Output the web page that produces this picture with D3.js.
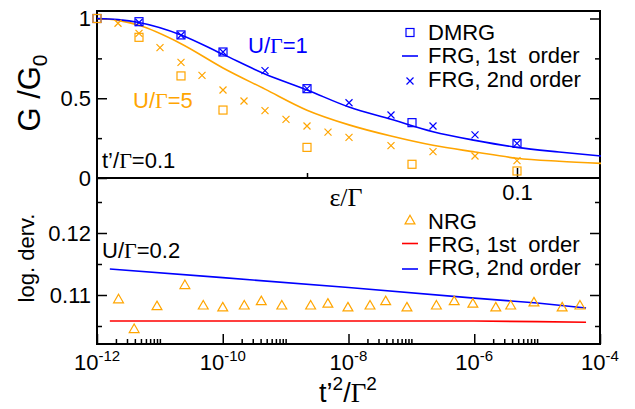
<!DOCTYPE html>
<html>
<head>
<meta charset="utf-8">
<script src="https://cdn.jsdelivr.net/npm/d3@7"></script>
<style>
  body { margin: 0; background: #fff; }
  svg { display: block; font-family: "Liberation Sans", Arial, sans-serif; }
  .greek { font-family: "Liberation Serif", "DejaVu Serif", serif; }
</style>
</head>
<body>
<svg id="chart" width="635" height="409"></svg>
<script>
// ---- top panel: G/G0 vs eps/Gamma ----
const epsLine = [0, 0.005, 0.01, 0.02, 0.03, 0.04, 0.05, 0.06, 0.07, 0.08, 0.09, 0.1, 0.11, 0.12];
const frg1U1 = [1.0, 0.993, 0.975, 0.897, 0.775, 0.652, 0.552, 0.445, 0.368, 0.29, 0.236, 0.192, 0.163, 0.138];
const frg1U5 = [1.0, 0.988, 0.957, 0.842, 0.69, 0.557, 0.425, 0.333, 0.263, 0.205, 0.163, 0.124, 0.105, 0.092];

const dmrgEps = [0, 0.01, 0.02, 0.03, 0.05, 0.075, 0.1];
const dmrgU1 = [1.0, 0.98, 0.897, 0.79, 0.56, 0.347, 0.217];
const dmrgU5 = [1.0, 0.882, 0.64, 0.426, 0.192, 0.086, 0.044];

const frg2EpsU1 = [0.01, 0.02, 0.03, 0.04, 0.05, 0.06, 0.07, 0.08, 0.09, 0.1];
const frg2U1 = [0.975, 0.895, 0.79, 0.673, 0.56, 0.472, 0.395, 0.326, 0.27, 0.217];
const frg2EpsU5 = [0.005, 0.01, 0.015, 0.02, 0.025, 0.03, 0.035, 0.04, 0.045, 0.05, 0.055, 0.06, 0.07, 0.08, 0.09, 0.1];
const frg2U5 = [0.97, 0.907, 0.817, 0.725, 0.643, 0.552, 0.483, 0.422, 0.368, 0.326, 0.288, 0.255, 0.203, 0.165, 0.138, 0.109];

const gTicks = [0, 0.5, 1];
const gMinor = [0.25, 0.75];
const epsTicks = [0.1];
const epsMinor = [0.05];

// ---- bottom panel: log derivative vs t'^2/Gamma^2 ----
const nrgT = [2.2e-12, 3.9e-12, 9e-12, 2.5e-11, 4.9e-11, 1e-10, 2.2e-10, 4.1e-10, 8.7e-10, 2.5e-9, 4.7e-9, 9.8e-9,
              2.2e-8, 3.9e-8, 8.5e-8, 2.5e-7, 4.8e-7, 9.5e-7, 2.2e-6, 3.8e-6, 8.9e-6, 2.5e-5, 4.8e-5];
const nrgVal = [0.1092, 0.1044, 0.1081, 0.1115, 0.1082, 0.1079, 0.1082, 0.1089, 0.1082, 0.1082, 0.1085, 0.1079,
                0.1082, 0.1089, 0.1079, 0.1082, 0.1089, 0.1085, 0.1079, 0.1082, 0.1087, 0.1079, 0.1082];
const lineT = [1.6e-12, 1e-10, 1e-8, 1e-6, 1e-5, 6e-5];
const frg1Log = [0.1058, 0.1058, 0.1058, 0.1058, 0.1057, 0.1056];
const frg2Log = [0.1142, 0.1128, 0.1112, 0.1095, 0.1087, 0.1079];

const dTicks = [0.11, 0.12];
const dMinor = [0.105, 0.115, 0.125];
const tMajor = [1e-12, 1e-10, 1e-8, 1e-6, 1e-4];
const tLabels = ["-12", "-10", "-8", "-6", "-4"];

const BLUE = "#0000ff", ORANGE = "#ffa500", RED = "#ff0000";

const svg = d3.select("#chart");
const L = 97, R = 600, T = 11, MID = 178, B = 344;

const xEps = d3.scaleLinear().domain([0, 0.12]).range([L, 601]);
const yG = d3.scaleLinear().domain([0, 1]).range([MID, 18.5]);
const xT = d3.scaleLog().domain([1e-12, 1e-4]).range([L, R]);
const yD = d3.scaleLinear().domain([0.11, 0.12]).range([295, 233]);

function axisStyle(g, size) {
  g.attr("font-family", null).attr("font-size", size);
  g.select(".domain").remove();
  g.selectAll(".tick line").attr("stroke", "#000").attr("stroke-width", 1.5);
  g.selectAll(".tick text").attr("fill", "#000");
}

// y axes, top panel
svg.append("g").attr("transform", `translate(${L},0)`)
  .call(d3.axisLeft(yG).tickValues(gTicks).tickSize(-10).tickPadding(6).tickFormat(d3.format("")))
  .call(axisStyle, 22);
svg.append("g").attr("transform", `translate(${L},0)`)
  .call(d3.axisLeft(yG).tickValues(gMinor).tickSize(-5).tickFormat(""))
  .call(axisStyle, 22);
svg.append("g").attr("transform", `translate(${R},0)`)
  .call(d3.axisRight(yG).tickValues(gTicks.filter(d => d > 0)).tickSize(-10).tickFormat(""))
  .call(axisStyle, 22);
svg.append("g").attr("transform", `translate(${R},0)`)
  .call(d3.axisRight(yG).tickValues(gMinor).tickSize(-5).tickFormat(""))
  .call(axisStyle, 22);

// eps axis (bottom of top panel)
svg.append("g").attr("transform", `translate(0,${MID})`)
  .call(d3.axisBottom(xEps).tickValues(epsTicks).tickSize(-10).tickPadding(6).tickFormat(d3.format("")))
  .call(axisStyle, 22);
svg.append("g").attr("transform", `translate(0,${MID})`)
  .call(d3.axisBottom(xEps).tickValues(epsMinor).tickSize(-5).tickFormat(""))
  .call(axisStyle, 22);

// y axes, bottom panel
svg.append("g").attr("transform", `translate(${L},0)`)
  .call(d3.axisLeft(yD).tickValues(dTicks).tickSize(-10).tickPadding(6).tickFormat(d3.format("")))
  .call(axisStyle, 22);
svg.append("g").attr("transform", `translate(${L},0)`)
  .call(d3.axisLeft(yD).tickValues(dMinor).tickSize(-5).tickFormat(""))
  .call(axisStyle, 22);
svg.append("g").attr("transform", `translate(${R},0)`)
  .call(d3.axisRight(yD).tickValues(dTicks).tickSize(-10).tickFormat(""))
  .call(axisStyle, 22);
svg.append("g").attr("transform", `translate(${R},0)`)
  .call(d3.axisRight(yD).tickValues(dMinor).tickSize(-5).tickFormat(""))
  .call(axisStyle, 22);

// log axis: major every two decades, minor ticks in the first decade after each major
const tMinor = [];
tMajor.slice(0, -1).forEach(m => { for (let k = 2; k <= 10; k++) tMinor.push(m * k); });
svg.append("g").attr("transform", `translate(0,${B})`)
  .call(d3.axisBottom(xT).tickValues(tMajor).tickSize(-10).tickFormat(""))
  .call(axisStyle, 22);
svg.append("g").attr("transform", `translate(0,${B})`)
  .call(d3.axisBottom(xT).tickValues(tMinor).tickSize(-5).tickFormat(""))
  .call(axisStyle, 22);

const tl = svg.append("g").selectAll("text").data(tMajor).join("text")
  .attr("x", d => xT(d)).attr("y", 370)
  .attr("text-anchor", "middle").attr("font-size", 22);
tl.append("tspan").text("10");
tl.append("tspan").attr("dy", -9).attr("font-size", 15).text((d, i) => tLabels[i]);

// frames
const frame = svg.append("g").attr("fill", "none").attr("stroke", "#000").attr("stroke-width", 2);
frame.append("rect").attr("x", L).attr("y", T).attr("width", R - L).attr("height", MID - T);
frame.append("rect").attr("x", L).attr("y", MID).attr("width", R - L).attr("height", B - MID);

// ---- top panel marks ----
const lineEps = d3.line().x(d => xEps(d[0])).y(d => yG(d[1])).curve(d3.curveMonotoneX);
svg.append("path").datum(d3.zip(epsLine, frg1U5))
  .attr("d", lineEps).attr("fill", "none").attr("stroke", ORANGE).attr("stroke-width", 1.6);
svg.append("path").datum(d3.zip(epsLine, frg1U1))
  .attr("d", lineEps).attr("fill", "none").attr("stroke", BLUE).attr("stroke-width", 1.6);

function squares(xs, ys, color) {
  svg.append("g").selectAll("rect").data(d3.zip(xs, ys)).join("rect")
    .attr("x", d => xEps(d[0]) - 4).attr("y", d => yG(d[1]) - 4)
    .attr("width", 8).attr("height", 8)
    .attr("fill", "none").attr("stroke", color).attr("stroke-width", 1.2);
}
function crosses(xs, ys, color) {
  svg.append("g").selectAll("path").data(d3.zip(xs, ys)).join("path")
    .attr("d", d => {
      const cx = xEps(d[0]), cy = yG(d[1]), s = 3.5;
      return `M${cx - s},${cy - s}L${cx + s},${cy + s}M${cx - s},${cy + s}L${cx + s},${cy - s}`;
    })
    .attr("fill", "none").attr("stroke", color).attr("stroke-width", 1.2);
}
squares(dmrgEps, dmrgU1, BLUE);
crosses(frg2EpsU1, frg2U1, BLUE);
crosses(frg2EpsU5, frg2U5, ORANGE);
squares(dmrgEps, dmrgU5, ORANGE);

// ---- bottom panel marks ----
const lineT2 = d3.line().x(d => xT(d[0])).y(d => yD(d[1]));
svg.append("path").datum(d3.zip(lineT, frg1Log))
  .attr("d", lineT2).attr("fill", "none").attr("stroke", RED).attr("stroke-width", 1.6);
svg.append("path").datum(d3.zip(lineT, frg2Log))
  .attr("d", lineT2).attr("fill", "none").attr("stroke", BLUE).attr("stroke-width", 1.6);

const tri = d3.symbol().type(d3.symbolTriangle).size(42);
svg.append("g").selectAll("path").data(d3.zip(nrgT, nrgVal)).join("path")
  .attr("transform", d => `translate(${xT(d[0])},${yD(d[1])})`)
  .attr("d", tri).attr("fill", "none").attr("stroke", ORANGE).attr("stroke-width", 1.2);

// ---- legends ----
const leg1 = svg.append("g").attr("font-size", 22);
leg1.append("rect").attr("x", 406).attr("y", 28.5).attr("width", 8).attr("height", 8)
  .attr("fill", "none").attr("stroke", BLUE).attr("stroke-width", 1.2);
leg1.append("text").attr("x", 428).attr("y", 40).text("DMRG");
leg1.append("line").attr("x1", 402).attr("x2", 418).attr("y1", 56).attr("y2", 56)
  .attr("stroke", BLUE).attr("stroke-width", 1.6);
leg1.append("text").attr("x", 428).attr("y", 63).attr("xml:space", "preserve").text("FRG, 1st  order");
leg1.append("path").attr("d", "M406.5,77.5L413.5,84.5M406.5,84.5L413.5,77.5")
  .attr("stroke", BLUE).attr("stroke-width", 1.2);
leg1.append("text").attr("x", 428).attr("y", 87).text("FRG, 2nd order");

const leg2 = svg.append("g").attr("font-size", 22);
leg2.append("path").attr("transform", "translate(410,221)").attr("d", tri)
  .attr("fill", "none").attr("stroke", ORANGE).attr("stroke-width", 1.2);
leg2.append("text").attr("x", 428).attr("y", 229).text("NRG");
leg2.append("line").attr("x1", 402).attr("x2", 418).attr("y1", 243.5).attr("y2", 243.5)
  .attr("stroke", RED).attr("stroke-width", 1.6);
leg2.append("text").attr("x", 428).attr("y", 252).attr("xml:space", "preserve").text("FRG, 1st  order");
leg2.append("line").attr("x1", 402).attr("x2", 418).attr("y1", 269).attr("y2", 269)
  .attr("stroke", BLUE).attr("stroke-width", 1.6);
leg2.append("text").attr("x", 428).attr("y", 275).text("FRG, 2nd order");

// ---- annotations ----
function uLabel(x, y, color, value) {
  const t = svg.append("text").attr("x", x).attr("y", y).attr("font-size", 22).attr("fill", color);
  t.append("tspan").text("U/");
  t.append("tspan").attr("class", "greek").text("Γ");
  t.append("tspan").text("=" + value);
}
uLabel(248, 53, BLUE, "1");
uLabel(133, 108, ORANGE, "5");
uLabel(102, 258, "#000", "0.2");
{
  const t = svg.append("text").attr("x", 102).attr("y", 168).attr("font-size", 22);
  t.append("tspan").text("t’/");
  t.append("tspan").attr("class", "greek").text("Γ");
  t.append("tspan").text("=0.1");
}

// ---- axis titles ----
{
  const t = svg.append("text").attr("transform", "translate(40,93) rotate(-90)")
    .attr("text-anchor", "middle").attr("font-size", 31);
  t.append("tspan").text("G /G");
  t.append("tspan").attr("dy", 7).attr("font-size", 21).text("0");
}
svg.append("text").attr("transform", "translate(34,258) rotate(-90)")
  .attr("text-anchor", "middle").attr("font-size", 22).text("log. derv.");
{
  const t = svg.append("text").attr("x", 346).attr("y", 206).attr("text-anchor", "middle")
    .attr("font-size", 26).attr("class", "greek");
  t.append("tspan").text("ε/Γ");
}
{
  const t = svg.append("text").attr("x", 348).attr("y", 402).attr("text-anchor", "middle").attr("font-size", 27);
  t.append("tspan").text("t’");
  t.append("tspan").attr("dy", -12).attr("font-size", 19).text("2");
  t.append("tspan").attr("dy", 12).text("/");
  t.append("tspan").attr("class", "greek").text("Γ");
  t.append("tspan").attr("dy", -12).attr("font-size", 19).text("2");
}
</script>
</body>
</html>
